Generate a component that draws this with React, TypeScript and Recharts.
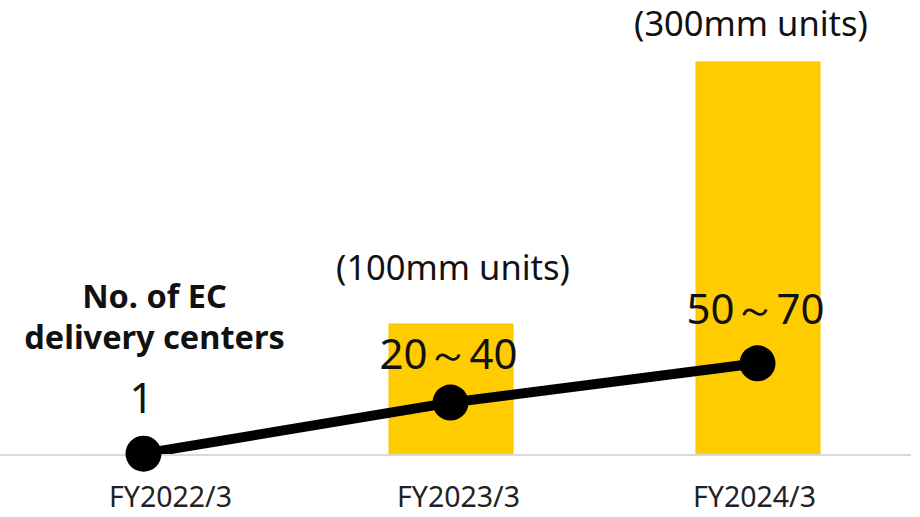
import { ComposedChart, Bar, Line, XAxis, YAxis, LabelList } from "recharts";

const categories = ["FY2022/3", "FY2023/3", "FY2024/3"];
const unitValues = [0.4, 100, 300];
const unitLabels = ["", "(100mm units)", "(300mm units)"];
const centerValues = [1, 40, 70];
const centerLabels = ["1", "20～40", "50～70"];
const seriesTitle = ["No. of EC", "delivery centers"];

const data = categories.map((c, i) => ({
  name: c,
  units: unitValues[i],
  centers: centerValues[i],
}));

const FONT = "'Noto Sans', 'Open Sans', sans-serif";

// label nudges, per category
const unitLabelLift = [0, 58, 40];
const unitLabelShift = [0, 2, -7];
const centerLabelLift = [57, 50, 56];
const tickShift = [27, 8, -3];

function UnitLabel(props: any) {
  const { x, y, width, index } = props;
  const text = unitLabels[index];
  if (!text) return null;
  return (
    <text x={x + width / 2 + unitLabelShift[index]} y={y - unitLabelLift[index]} textAnchor="middle"
      dominantBaseline="central" fontSize={34.5} fontFamily={FONT} fill="#111">
      {text}
    </text>
  );
}

function CenterLabel(props: any) {
  const { x, y, index } = props;
  return (
    <g>
      {index === 0 &&
        seriesTitle.map((t, i) => (
          <text key={t} x={x + 11} y={308 + i * 41} textAnchor="middle" fontSize={32.5} fontWeight="bold"
            fontFamily={FONT} fill="#111">
            {t}
          </text>
        ))}
      <text x={x - 2} y={y - centerLabelLift[index]} textAnchor="middle" dominantBaseline="central"
        fontSize={42} fontFamily={FONT} fill="#111">
        {centerLabels[index]}
      </text>
    </g>
  );
}

function Tick(props: any) {
  const { x, y, payload, index } = props;
  return (
    <text x={x + tickShift[index]} y={y + 44} textAnchor="middle" fontSize={28.5} fontFamily={FONT} fill="#222">
      {payload.value}
    </text>
  );
}

export default function App() {
  return (
    <div style={{ position: "absolute", left: -10, top: 0, width: 921, height: 517, background: "#fff" }}>
      <ComposedChart width={921} height={517} data={data} margin={{ top: 62, right: 0, bottom: 0, left: 0 }}>
        <XAxis dataKey="name" height={62} tickLine={false} axisLine={{ stroke: "#d9d9d9", strokeWidth: 2 }}
          tick={<Tick />} />
        <YAxis hide domain={[0, 300]} />
        <Bar dataKey="units" fill="#FFCC00" stroke="#F5C400" barSize={124} isAnimationActive={false}>
          <LabelList dataKey="units" content={UnitLabel} />
        </Bar>
        <Line dataKey="centers" stroke="#000" strokeWidth={10} dot={{ r: 18, fill: "#000", stroke: "#000", strokeWidth: 0 }}
          activeDot={false} isAnimationActive={false}>
          <LabelList dataKey="centers" content={CenterLabel} />
        </Line>
      </ComposedChart>
    </div>
  );
}
